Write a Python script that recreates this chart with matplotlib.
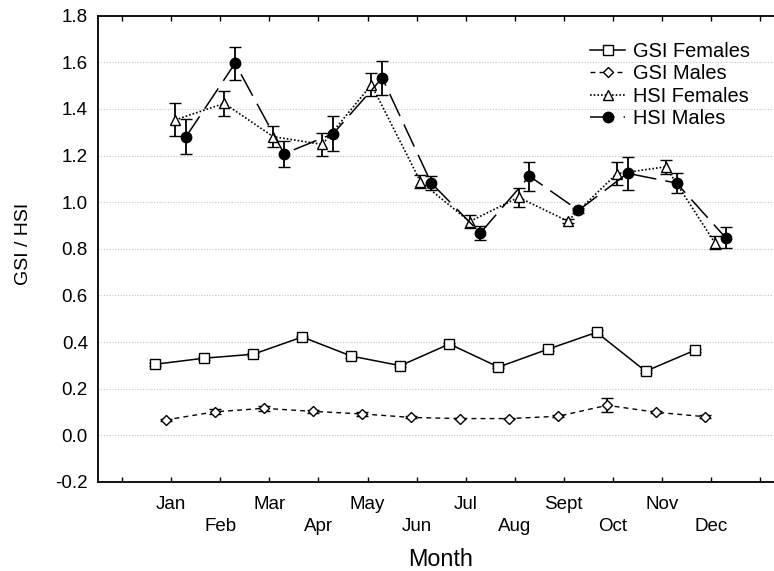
import matplotlib
matplotlib.use("Agg")
import matplotlib.pyplot as plt
from matplotlib.lines import Line2D
import numpy as np

plt.rcParams['font.family'] = ['Liberation Sans', 'DejaVu Sans']

months = ['Jan', 'Feb', 'Mar', 'Apr', 'May', 'Jun',
          'Jul', 'Aug', 'Sept', 'Oct', 'Nov', 'Dec']

gsi_females = [0.305, 0.331, 0.348, 0.422, 0.340, 0.299,
               0.392, 0.293, 0.369, 0.442, 0.275, 0.365]
gsi_females_err = [0.006, 0.006, 0.006, 0.006, 0.008, 0.006,
                   0.006, 0.006, 0.006, 0.012, 0.006, 0.006]

gsi_males = [0.066, 0.101, 0.116, 0.103, 0.092, 0.077,
             0.072, 0.072, 0.082, 0.129, 0.099, 0.080]
gsi_males_err = [0.004, 0.010, 0.012, 0.006, 0.008, 0.004,
                 0.003, 0.003, 0.004, 0.030, 0.005, 0.006]

hsi_females = [1.353, 1.424, 1.281, 1.248, 1.504, 1.088,
               0.917, 1.021, 0.919, 1.122, 1.152, 0.826]
hsi_females_err = [0.071, 0.054, 0.045, 0.050, 0.050, 0.027,
                   0.028, 0.040, 0.010, 0.050, 0.030, 0.027]

hsi_males = [1.281, 1.596, 1.208, 1.294, 1.533, 1.082,
             0.868, 1.112, 0.965, 1.124, 1.082, 0.848]
hsi_males_err = [0.074, 0.070, 0.056, 0.076, 0.074, 0.030,
                 0.030, 0.062, 0.010, 0.071, 0.044, 0.045]

W, H = 774, 571
fig = plt.figure(figsize=(W / 100, H / 100), dpi=100)
left, right, bottom, top = 97.7, 784.5, 482.0, 15.7
ax = fig.add_axes([left / W, 1 - bottom / H, (right - left) / W, (bottom - top) / H])

x = np.arange(1, len(months) + 1)

series = [
    (gsi_females, gsi_females_err, -0.33, 'GSI Females',
     dict(marker='s', ms=7.5, mfc='white', mec='black', ls='-', lw=1.1)),
    (gsi_males, gsi_males_err, -0.115, 'GSI Males',
     dict(marker='D', ms=5.0, mfc='white', mec='black', ls=(0, (3.5, 3)), lw=1.0)),
    (hsi_females, hsi_females_err, 0.08, 'HSI Females',
     dict(marker='^', ms=7.5, mfc='white', mec='black', ls=(0, (1, 1.2)), lw=1.2)),
    (hsi_males, hsi_males_err, 0.30, 'HSI Males',
     dict(marker='o', ms=7.5, mfc='black', mec='black', ls=(0, (16, 6)), lw=1.1)),
]

handles = []
for vals, errs, off, label, style in series:
    ax.errorbar(x + off, vals, yerr=errs, color='black', ecolor='black',
                elinewidth=1.3, capsize=4, capthick=1.3, mew=1.0, **style)
    handles.append(Line2D([], [], color='black', mew=1.0, label=label, **style))

ax.set_xlim(-0.5, 13.5)
ax.set_ylim(-0.2, 1.8)

# month ticks, labels staggered over two rows
ax.set_xticks(np.arange(0, 14))
tick_labels = [''] + [m if i % 2 == 0 else '\n' + m for i, m in enumerate(months)] + ['']
ax.set_xticklabels(tick_labels, fontsize=13.5, linespacing=1.4)
ax.tick_params(axis='x', direction='in', length=3.5, width=1.0, pad=10,
               top=True, bottom=True)

yt = np.arange(-0.2, 1.81, 0.2)
ax.set_yticks(yt)
ax.set_yticklabels([f'{v:.1f}' for v in yt], fontsize=13.5)
ax.tick_params(axis='y', length=0, pad=7)

for v in np.arange(0.0, 1.61, 0.2):
    ax.axhline(v, color='#c4c4c4', lw=0.8, ls=(0, (1, 1.5)), zorder=0)

for s in ['left', 'bottom', 'top']:
    ax.spines[s].set_linewidth(1.3)
ax.spines['right'].set_visible(False)

fig.text(23 / W, 1 - 244 / H, 'GSI / HSI', rotation=90, ha='center',
         va='center', fontsize=14)
fig.text(441 / W, 1 - 559 / H, 'Month', ha='center', va='center', fontsize=16.8)

ax.legend(handles=handles, loc='upper left', bbox_to_anchor=(590 / W, 1 - 42 / H),
          bbox_transform=fig.transFigure, frameon=False, fontsize=14.4,
          handlelength=1.75, handletextpad=0.4, labelspacing=0.17,
          borderpad=0, borderaxespad=0)

fig.savefig('out.png', dpi=100)
